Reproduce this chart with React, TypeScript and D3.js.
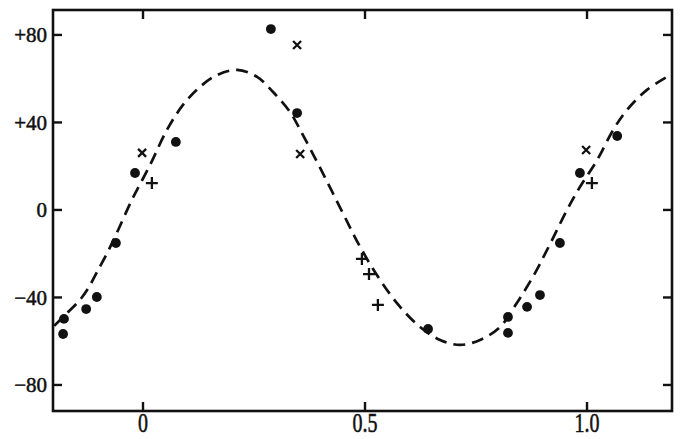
import React, { useEffect, useRef } from "react";
import * as d3 from "d3";

// phase / velocity (km/s)
const dotPhase = [-0.18, -0.178, -0.128, -0.104, -0.061, -0.018, 0.074, 0.288, 0.347, 0.642, 0.822, 0.822, 0.865, 0.894, 0.939, 0.984, 1.068];
const dotVel = [-56.7, -49.8, -45.3, -39.8, -15.1, 16.9, 31.1, 82.7, 44.3, -54.4, -48.9, -56.2, -44.3, -38.9, -15.1, 16.9, 33.8];

const crossPhase = [-0.002, 0.347, 0.354, 0.998];
const crossVel = [26.1, 75.4, 25.6, 27.4];

const plusPhase = [0.02, 0.493, 0.509, 0.529, 1.011];
const plusVel = [12.3, -22.4, -29.3, -43.4, 12.3];

// dashed fitted curve
const curvePhase = [-0.2, -0.171, -0.142, -0.124, -0.104, -0.081, -0.059, -0.025, 0.016, 0.054, 0.09, 0.128, 0.167, 0.212, 0.257, 0.293, 0.331, 0.36, 0.399, 0.45, 0.489, 0.534, 0.579, 0.624, 0.669, 0.714, 0.759, 0.804, 0.842, 0.878, 0.91, 0.955, 0.984, 1.023, 1.059, 1.09, 1.135, 1.19];
const curveVel = [-53, -47.1, -41.1, -36, -28.5, -19.8, -10.5, 4.6, 20.6, 36.6, 48, 56.2, 61.7, 64, 60.8, 53.9, 44.8, 34.3, 19.2, -1.4, -16.9, -32, -44.3, -53.5, -59.4, -61.7, -59.4, -53.5, -42.5, -30.6, -18.3, 0, 10.5, 22.9, 36.6, 45.7, 54.9, 62];

const yTicks = [80, 40, 0, -40, -80];
const yTickLabels = ["+80", "+40", "0", "\u221240", "\u221280"];
const xTicks = [0, 0.5, 1.0];
const xTickLabels = ["0", "0.5", "1.0"];

function App() {
  const svgRef = useRef(null);
  const width = 685;
  const height = 439;

  useEffect(() => {
    const svg = d3.select(svgRef.current);
    svg.selectAll("*").remove();

    const left = 53, right = 672, top = 10, bottom = 411;
    const x = d3.scaleLinear().domain([-0.2027, 1.1914]).range([left, right]);
    const y = d3.scaleLinear().domain([-91.9, 91.4]).range([bottom, top]);
    const font = "'Liberation Serif', 'Times New Roman', serif";

    // frame
    svg.append("rect")
      .attr("x", left).attr("y", top)
      .attr("width", right - left).attr("height", bottom - top)
      .attr("fill", "none").attr("stroke", "#111").attr("stroke-width", 2.6);

    // inward ticks on all four sides
    const tl = 9;
    yTicks.forEach((t) => {
      svg.append("line").attr("x1", left).attr("x2", left + tl)
        .attr("y1", y(t)).attr("y2", y(t)).attr("stroke", "#111").attr("stroke-width", 2.4);
      svg.append("line").attr("x1", right).attr("x2", right - tl)
        .attr("y1", y(t)).attr("y2", y(t)).attr("stroke", "#111").attr("stroke-width", 2.4);
    });
    xTicks.forEach((t) => {
      svg.append("line").attr("x1", x(t)).attr("x2", x(t))
        .attr("y1", bottom).attr("y2", bottom - tl).attr("stroke", "#111").attr("stroke-width", 2.4);
      svg.append("line").attr("x1", x(t)).attr("x2", x(t))
        .attr("y1", top).attr("y2", top + tl).attr("stroke", "#111").attr("stroke-width", 2.4);
    });

    // tick labels
    yTicks.forEach((t, i) => {
      svg.append("text")
        .attr("x", 47).attr("y", y(t)).attr("dy", "0.35em")
        .attr("text-anchor", "end")
        .style("font-family", font).style("font-size", "21px").style("fill", "#111")
        .style("stroke", "#111").style("stroke-width", 0.5)
        .text(yTickLabels[i]);
    });
    xTicks.forEach((t, i) => {
      svg.append("text")
        .attr("transform", `translate(${x(t)},432) scale(1,1.4)`)
        .attr("text-anchor", "middle")
        .style("font-family", font).style("font-size", "20px").style("fill", "#111")
        .style("stroke", "#111").style("stroke-width", 0.4)
        .text(xTickLabels[i]);
    });

    // dashed curve
    const curveData = curvePhase.map((p, i) => ({ p, v: curveVel[i] }));
    const line = d3.line()
      .x((d) => x(d.p))
      .y((d) => y(d.v))
      .curve(d3.curveCatmullRom);
    svg.append("path")
      .attr("d", line(curveData))
      .attr("fill", "none").attr("stroke", "#111")
      .attr("stroke-width", 2.7).attr("stroke-dasharray", "12,7");

    // filled dots
    svg.selectAll(".dot")
      .data(dotPhase.map((p, i) => ({ p, v: dotVel[i] })))
      .enter().append("circle")
      .attr("cx", (d) => x(d.p)).attr("cy", (d) => y(d.v))
      .attr("r", 4.9).attr("fill", "#111");

    // x markers
    const cr = 4;
    crossPhase.forEach((p, i) => {
      const cx = x(p), cy = y(crossVel[i]);
      svg.append("path")
        .attr("d", `M${cx - cr},${cy - cr}L${cx + cr},${cy + cr}M${cx - cr},${cy + cr}L${cx + cr},${cy - cr}`)
        .attr("stroke", "#111").attr("stroke-width", 2.3);
    });

    // + markers
    const pr = 6;
    plusPhase.forEach((p, i) => {
      const cx = x(p), cy = y(plusVel[i]);
      svg.append("path")
        .attr("d", `M${cx - pr},${cy}L${cx + pr},${cy}M${cx},${cy - pr}L${cx},${cy + pr}`)
        .attr("stroke", "#111").attr("stroke-width", 2.3);
    });
  }, []);

  return (
    <svg
      ref={svgRef}
      width={width}
      height={height}
      style={{ position: "absolute", left: 0, top: 0, background: "#fff" }}
    ></svg>
  );
}

export default App;
